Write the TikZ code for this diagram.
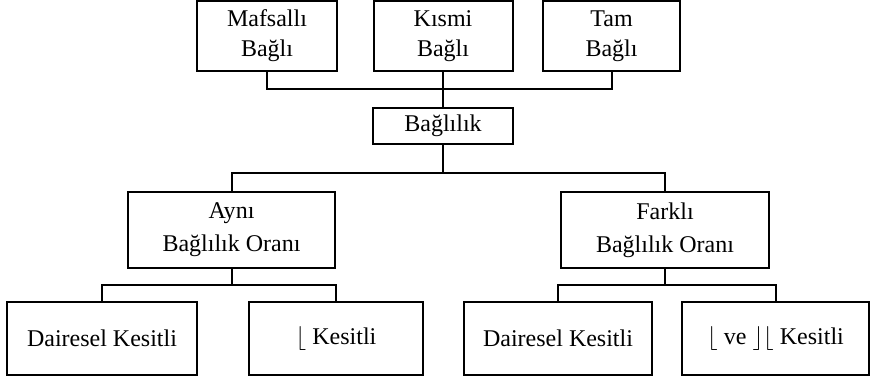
\documentclass[tikz,border=0pt]{standalone}
\usepackage{fontspec}
\setmainfont{Liberation Serif}
\usetikzlibrary{calc}
\tikzset{kutu/.style={draw, line width=1pt, align=center, inner sep=0pt, font=\fontsize{12}{15}\selectfont}}
\tikzset{baglanti/.style={draw, line width=1pt}}

\begin{document}
\begin{tikzpicture}[x=0.5pt,y=-0.5pt]
\useasboundingbox (0,0) rectangle (870,377);

%top row
\node[kutu, minimum width=70pt, minimum height=35pt] (mafsal) at (267,36) {Mafsallı\\Bağlı};
\node[kutu, minimum width=69.5pt, minimum height=35pt] (kismi) at (443,36) {Kısmi\\Bağlı};
\node[kutu, minimum width=68.5pt, minimum height=35pt] (tam) at (611.5,36) {Tam\\Bağlı};

\node[kutu, minimum width=70pt, minimum height=18pt] (baglilik) at (443,126) {Bağlılık};

%second row
\node[kutu, font=\fontsize{12}{16.5}\selectfont, minimum width=103.5pt, minimum height=38pt] (ayni) at (231.5,230) {Aynı\\Bağlılık Oranı};
\node[kutu, font=\fontsize{12}{16.5}\selectfont, minimum width=104pt, minimum height=38pt] (farkli) at (665,230) {Farklı\\Bağlılık Oranı};

%bottom row
\node[kutu, minimum width=95pt, minimum height=36.5pt] (daireA) at (102,338.5) {Dairesel Kesitli};
\node[kutu, minimum width=87pt, minimum height=36.5pt] (kesitA) at (336,338.5) {$\lfloor$ Kesitli};
\node[kutu, minimum width=94pt, minimum height=36.5pt] (daireB) at (558,338.5) {Dairesel Kesitli};
\node[kutu, minimum width=93.5pt, minimum height=36.5pt] (kesitB) at (775.5,338.5) {$\lfloor$ ve $\rfloor\lfloor$ Kesitli};

%connectors
\coordinate (j1) at (443,89);
\coordinate (j2) at (443,173);
\coordinate (j3) at (231.5,285);
\coordinate (j4) at (665,285);

\draw[baglanti] (mafsal.south) |- (j1) -| (tam.south);
\draw[baglanti] (kismi.south) -- (baglilik.north);
\draw[baglanti] (baglilik.south) -- (j2);
\draw[baglanti] (ayni.north) |- (j2) -| (farkli.north);
\draw[baglanti] (ayni.south) -- (j3);
\draw[baglanti] (daireA.north) |- (j3) -| (kesitA.north);
\draw[baglanti] (farkli.south) -- (j4);
\draw[baglanti] (daireB.north) |- (j4) -| (kesitB.north);
\end{tikzpicture}
\end{document}
